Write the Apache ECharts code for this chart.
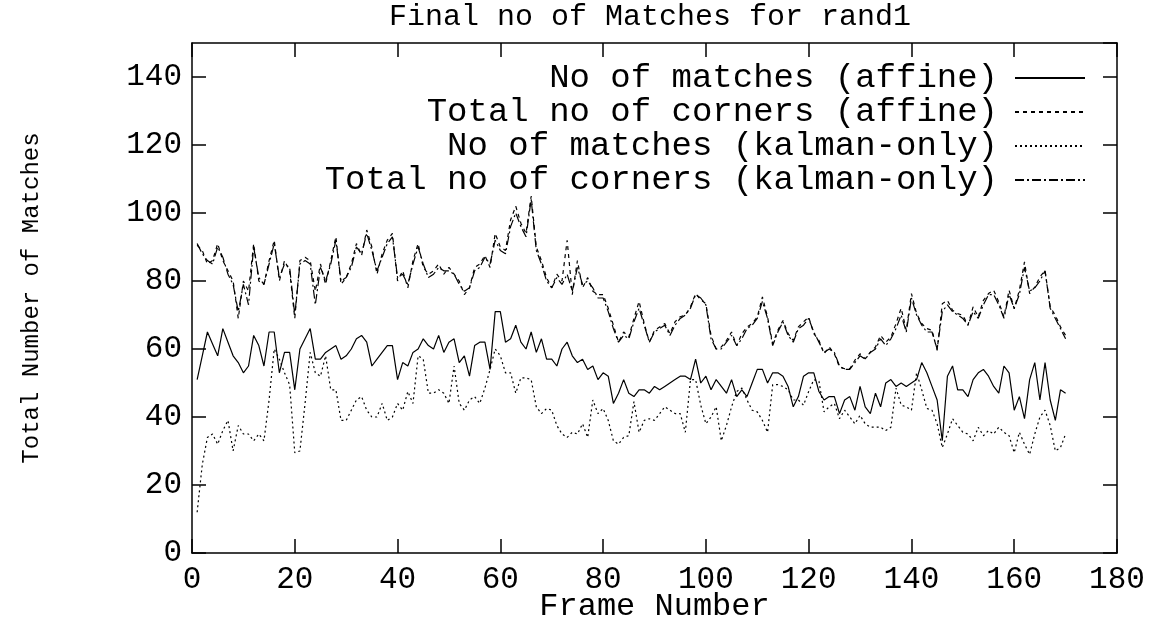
<!DOCTYPE html>
<html>
<head>
<meta charset="utf-8">
<script src="https://cdn.jsdelivr.net/npm/echarts@6/dist/echarts.min.js"></script>
<style>html,body{margin:0;padding:0;background:#fff}#c{width:1162px;height:624px}</style>
</head>
<body>
<div id="c"></div>
<script>
const titleText = "Final no of Matches for rand1";
const xName = "Frame Number";
const yName = "Total Number of Matches";
const seriesNames = ["No of matches (affine)", "Total no of corners (affine)", "No of matches (kalman-only)", "Total no of corners (kalman-only)"];

const matchesAffine = [51,58,65,61.5,58,66,62,58,56,53,55,64,61,55,65,65,53,59,59,48,60,63,66,57,57,59,60,61,57,58,60,63,64,62,55,57,59,61,61,51,56,55,59,60,63,61,60,64,59,62,63,56,58,52,61,62,62,54,71,71,62,63,67,62,60,65,59,63,57,57,55,60,62,58,56,57,54,55,51,53,52,44,47,51,47,46,48,48,47,49,48,49,50,51,52,52,51,57,50,52,48,51,49,47,51,46,48,46,50,54,54,50,53,53,52,49,43,46,52,53,53,47.5,45,46,46,41,45,46,42,49,43,41,47,43,50,51,49,50,49,50,51,56,53,49,45,33,52,55,48,48,46,51,53,54,52,49,47,55,53,42,46,39.5,51,56,45,56,45,39,48,47];

const cornersAffine = [90.5,89,85,86,91,86,83,80,69,80,77,91,80,79,86,92,80,86,83,69,86,87,86,77,85,79,86,93,79,81,85,91,87.5,95,90,82,88,92,94,80,83,78,86,91,84,82,83,85,82,84,82,80,76,78,84,85,87.5,84,94,90,89,98,102,97,94,105,90,86,81,78,82,80,92,76,86,78,81,77,76,76,72,67,62,65,63.5,69,74,67.5,62,65.5,66.5,67.5,64.5,68,69.5,70,72.4,76.3,74.5,73.3,64,60,60.6,62.5,65,61,64.5,66.5,67.5,69.4,75.3,69.4,61.6,65.5,68.4,64.5,62.5,66.5,68,69.4,64.5,62.5,58.6,60.6,58.6,54.7,54.2,54.2,56.7,58.6,57.1,59.1,60.6,64,62,63.5,67.5,72,65.5,76.3,70.4,67.5,66,65.5,59.6,73.3,74.3,71.4,70.4,69.9,67,72.4,69.4,74.3,76.3,77.3,73.8,69.4,77.3,71.8,77.3,85.6,76.3,78.2,81.2,83.1,72.4,69.9,66.5,64];

const matchesKalman = [12,26,34,35,32,36,39,30,37.5,35,35,33,35,33,45,60,57,53,49.5,29.5,30,44,59,53,52,58,48,48,39,39,42,45,46,42,40,40,44,39,40,44,42,47.5,44,58,57,47,47,48,47,44,55,44,42,45,46,44,48.5,54,60,58,53,53,47,51.5,51.5,51,43,41,42.5,42,37.5,35,34,35.5,35,38,34,45,41,42.5,39,33,32,34,34.5,44.5,35.5,39,39.5,39,41,43,42,41,41,35.5,51,51,43.5,38,40,43,33,37.5,43,47.5,48.5,45,42,41.5,39,35.5,49.5,49.5,49,48,45,45,43.5,47.5,51,50.5,41.5,43,44,39.5,42,40,38,40.5,38,37,37,37,36,37,48.5,43.5,43,42,53,48,42.5,42,38,31,35,39.5,37.5,35.5,35,33,37,34.5,36,35,37,35.5,34.5,29.5,35.5,32,29,35,40,42,37.5,30,31,35];

const cornersKalman = [91,88,86,85,90,87,82,79,71,79,73,90,81,79,85,91,81,85,84,70,85,86,85,73,84,80,85,92,80,81,84,90,88,94,89,83,87,91,93,81,82,79,85,90,85,81,82,84,83,83,82,79,77,78,83,84,87,85,92,89,88,96,100,96,93,104,89,85,80,78,81,79,82,77,84,79,80,78,75,75,71,66,62,64,63,68,72,67,62,65,66,67,64,67,69,70,72,76,75,73,63,60,60,62,64,61,63,66,67,69,74,69,61,65,68,64,62,66,67,69,65,62,59,60,59,55,54,54,56,58,57,59,60,63,61,63,66,70,65,75,70,67,65,65,60,71,73,71,70,69,67,71,69,73,76,76,73,69,76,72,76,84,77,78,80,83,72,69,66,63];

const xTicks = {min: 0, max: 180, interval: 20};
const yTicks = {min: 0, max: 150, interval: 20};

function pairs(arr){ return arr.map((v,i)=>[i+1, v]); }

const FONT = "Liberation Mono";
const chart = echarts.init(document.getElementById('c'), null, {renderer:'canvas'});

const baseAxis = {
  axisLine: {show: true, onZero: false, lineStyle: {color: '#000', width: 1.5}},
  axisTick: {show: true, inside: true, length: 14, lineStyle: {color: '#000', width: 1.5}},
  splitLine: {show: false},
  minorTick: {show: false}
};

const lineStyles = [
  {type: 'solid'},
  {type: [4, 4]},
  {type: [2, 3]},
  {type: [9, 3, 2, 3]}
];
const dataSets = [matchesAffine, cornersAffine, matchesKalman, cornersKalman];

const legendTops = [61, 95, 129, 163];

const option = {
  animation: false,
  backgroundColor: '#fff',
  title: {
    text: titleText, left: 645, top: -3, textAlign: 'center',
    textStyle: {fontFamily: FONT, fontWeight: 'normal', fontSize: 30, color: '#000'}
  },
  legend: seriesNames.map((n, i) => ({
    data: [n], right: 76, top: legendTops[i], orient: 'horizontal', align: 'right',
    itemWidth: 70, itemHeight: 14, itemGap: 10, padding: 0,
    itemStyle: {color: 'rgba(0,0,0,0)', borderColor: 'rgba(0,0,0,0)', borderWidth: 0, opacity: 0},
    textStyle: {fontFamily: FONT, fontSize: 34, color: '#000', padding: [0, 12, 0, 0]},
    selectedMode: false
  })),
  grid: {left: 192, right: 45, top: 43, bottom: 71, outerBoundsMode: 'none', containLabel: false},
  xAxis: [
    Object.assign({}, baseAxis, {
      type: 'value', position: 'bottom', min: xTicks.min, max: xTicks.max, interval: xTicks.interval,
      name: xName, nameLocation: 'middle', nameGap: 38, nameMoveOverlap: false,
      nameTextStyle: {fontFamily: FONT, fontSize: 32, color: '#000'},
      axisLabel: {fontFamily: FONT, fontSize: 31, color: '#000', margin: 11}
    }),
    Object.assign({}, baseAxis, {
      type: 'value', position: 'top', min: xTicks.min, max: xTicks.max, interval: xTicks.interval,
      axisLabel: {show: false}
    })
  ],
  yAxis: [
    Object.assign({}, baseAxis, {
      type: 'value', position: 'left', min: yTicks.min, max: yTicks.max, interval: yTicks.interval,
      name: yName, nameLocation: 'middle', nameGap: 148, nameRotate: 90, nameMoveOverlap: false,
      nameTextStyle: {fontFamily: FONT, fontSize: 24, color: '#000'},
      axisLabel: {fontFamily: FONT, fontSize: 31, color: '#000', margin: 10,
        showMaxLabel: false}
    }),
    Object.assign({}, baseAxis, {
      type: 'value', position: 'right', min: yTicks.min, max: yTicks.max, interval: yTicks.interval,
      axisLabel: {show: false}
    })
  ],
  series: seriesNames.map((n, i) => ({
    name: n, type: 'line', xAxisIndex: 0, yAxisIndex: 0,
    data: pairs(dataSets[i]), symbol: 'none', showSymbol: false,
    lineStyle: Object.assign({color: '#000', width: 1.2}, lineStyles[i]),
    itemStyle: {color: '#000'},
    emphasis: {disabled: true}
  }))
};
chart.setOption(option);
</script>
</body>
</html>
